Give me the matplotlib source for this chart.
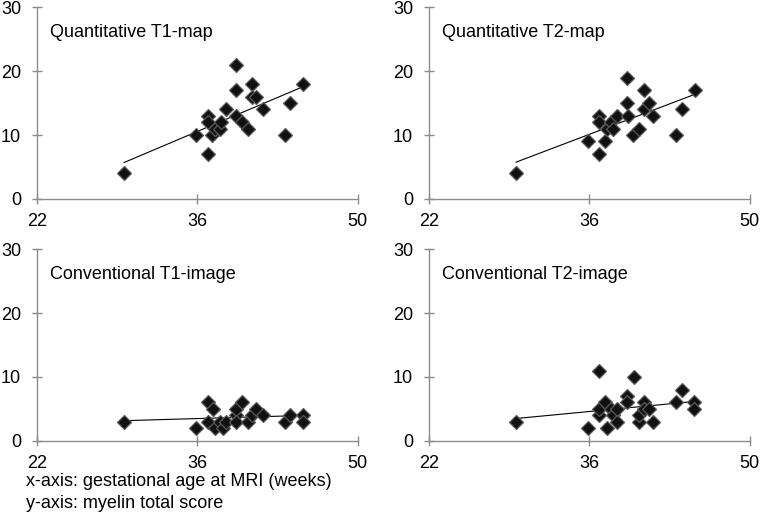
import numpy as np
import matplotlib.pyplot as plt

plt.rcParams['font.family'] = ['Liberation Sans', 'DejaVu Sans']

# gestational age (weeks) and myelin total score
t1map_x = [29.6, 35.9, 36.9, 36.9, 36.9, 37.3, 37.5, 38.0, 38.1, 38.5, 39.35, 39.35,
           39.35, 39.9, 40.4, 40.8, 40.8, 41.15, 41.7, 43.6, 44.05, 45.2]
t1map_y = [4, 10, 7, 13, 12, 10, 11, 11, 12, 14, 21, 17,
           13, 12, 11, 18, 16, 16, 14, 10, 15, 18]

t2map_x = [29.6, 35.9, 36.85, 36.85, 36.85, 37.35, 37.5, 37.9, 38.1, 38.4, 39.25, 39.25,
           39.4, 39.8, 40.35, 40.75, 40.75, 41.2, 41.55, 43.6, 44.05, 45.2]
t2map_y = [4, 9, 7, 13, 12, 9, 11, 12, 11, 13, 19, 15,
           13, 10, 11, 17, 14, 15, 13, 10, 14, 17]

t1img_x = [29.6, 35.9, 36.9, 36.9, 37.4, 37.5, 38.0, 38.2, 38.5, 39.35, 39.35, 39.35,
           39.9, 40.4, 40.8, 41.15, 41.7, 43.6, 44.05, 45.2, 45.2]
t1img_y = [3, 2, 6, 3, 5, 2, 3, 2, 3, 4, 5, 3,
           6, 3, 4, 5, 4, 3, 4, 4, 3]

t2img_x = [29.6, 35.9, 36.85, 36.85, 36.85, 37.35, 37.5, 37.9, 38.1, 38.4, 38.4, 39.25,
           39.25, 39.9, 40.35, 40.35, 40.75, 40.75, 41.2, 41.55, 43.6, 44.05, 45.1, 45.1]
t2img_y = [3, 2, 11, 4, 5, 6, 2, 5, 4, 5, 3, 7,
           6, 10, 3, 4, 6, 5, 5, 3, 6, 8, 6, 5]

titles = ['Quantitative T1-map', 'Quantitative T2-map',
          'Conventional T1-image', 'Conventional T2-image']
xs = [t1map_x, t2map_x, t1img_x, t2img_x]
ys = [t1map_y, t2map_y, t1img_y, t2img_y]

x_ticks = [22, 36, 50]
y_ticks = [0, 10, 20, 30]

fig = plt.figure(figsize=(7.62, 5.18), dpi=100)
rects = [[0.0486, 0.616, 0.421, 0.370],
         [0.563, 0.616, 0.421, 0.370],
         [0.0486, 0.149, 0.421, 0.370],
         [0.563, 0.149, 0.421, 0.370]]

for rect, title, x, y in zip(rects, titles, xs, ys):
    ax = fig.add_axes(rect)
    x = np.array(x)
    y = np.array(y)
    # linear trend line over the data range
    k, b = np.polyfit(x, y, 1)
    xl = np.array([x.min(), x.max()])
    ax.plot(xl, k * xl + b, color='black', lw=0.8, zorder=2)
    ax.plot(x, y, 'D', ms=6.8, mfc='#111111', mec='#5a5a5a', mew=0.9, zorder=3)
    ax.set_xlim(22, 50)
    ax.set_ylim(0, 30)
    ax.set_xticks(x_ticks)
    ax.set_yticks(y_ticks)
    for s in ['top', 'right']:
        ax.spines[s].set_visible(False)
    for s in ['left', 'bottom']:
        ax.spines[s].set_color('#8c8c8c')
        ax.spines[s].set_linewidth(1.0)
    ax.tick_params(direction='inout', length=7, width=1.0, color='#8c8c8c',
                   labelsize=13)
    ax.tick_params(axis='x', pad=6.5)
    ax.tick_params(axis='y', pad=8)
    ax.text(0.04, 0.87, title, transform=ax.transAxes, fontsize=13, va='center')

fig.text(0.034, 0.0695, 'x-axis: gestational age at MRI (weeks)', fontsize=13, va='center')
fig.text(0.034, 0.028, 'y-axis: myelin total score', fontsize=13, va='center')

fig.savefig('out.png', dpi=100)
